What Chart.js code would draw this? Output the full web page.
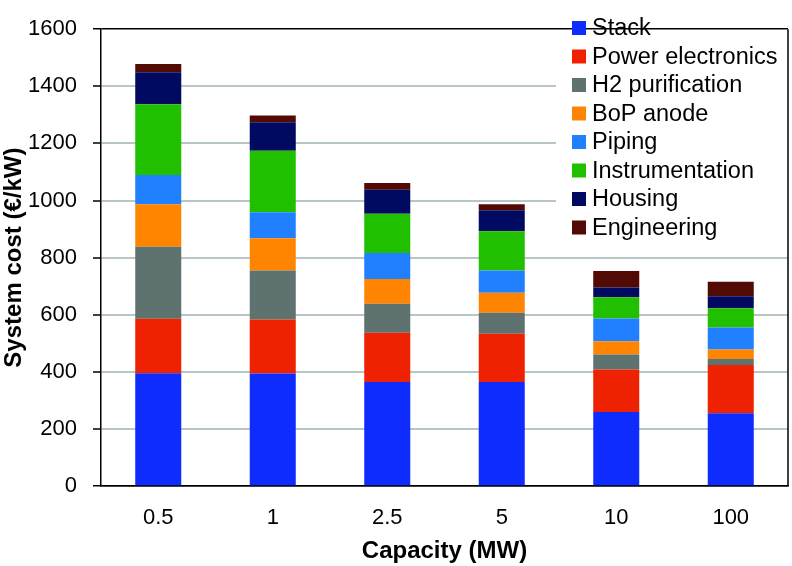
<!DOCTYPE html>
<html>
<head>
<meta charset="utf-8">
<script src="https://cdn.jsdelivr.net/npm/chart.js@4.4.1/dist/chart.umd.min.js"></script>
<style>
html,body{margin:0;padding:0;background:#fff;}
#c{display:block;}
</style>
</head>
<body>
<canvas id="c" width="792" height="566"></canvas>
<script>
const categories = ["0.5", "1", "2.5", "5", "10", "100"];
const stack       = [395, 394, 364, 364, 259, 255];
const powerElec   = [191, 189, 173, 169, 149, 169];
const h2Purif     = [252, 172, 101, 74, 53, 21];
const bopAnode    = [149, 113, 87, 70, 46, 33];
const piping      = [102, 91, 91, 78, 80, 77];
const instrument  = [248, 215, 138, 137, 74, 68];
const housing     = [112, 100, 84, 74, 34, 42];
const engineering = [29, 24, 23, 21, 58, 50];
const seriesNames = ["Stack", "Power electronics", "H2 purification", "BoP anode", "Piping", "Instrumentation", "Housing", "Engineering"];
const seriesColors = ["#0F2CFF", "#EE2200", "#5E7270", "#FF8500", "#2080FF", "#20C000", "#000A60", "#520A05"];
const yTicks = [0, 200, 400, 600, 800, 1000, 1200, 1400, 1600];

const seriesData = [stack, powerElec, h2Purif, bopAnode, piping, instrument, housing, engineering];
const FONT = "'Liberation Sans', Arial, Helvetica, sans-serif";

const frameLegend = {
  id: 'frameLegend',
  afterDraw(chart) {
    const ctx = chart.ctx;
    const a = chart.chartArea;
    ctx.save();
    ctx.fillStyle = '#ffffff';
    ctx.fillRect(556, a.top + 1, a.right - 556, 247 - a.top - 1);
    ctx.strokeStyle = '#000';
    ctx.lineWidth = 1.5;
    ctx.beginPath();
    ctx.moveTo(a.right, a.top);
    ctx.lineTo(a.right, a.bottom);
    ctx.stroke();
    ctx.font = '23.5px ' + FONT;
    ctx.textBaseline = 'middle';
    ctx.textAlign = 'left';
    chart.data.datasets.forEach((ds, i) => {
      const cy = 28 + i * 28.5;
      ctx.fillStyle = ds.backgroundColor;
      ctx.fillRect(572, cy - 7, 14, 14);
      ctx.fillStyle = '#000';
      ctx.fillText(ds.label, 592, cy + 1);
    });
    ctx.restore();
  }
};

new Chart(document.getElementById('c'), {
  type: 'bar',
  data: {
    labels: categories,
    datasets: seriesNames.map((n, i) => ({
      label: n,
      data: seriesData[i],
      backgroundColor: seriesColors[i],
      borderWidth: 0,
      categoryPercentage: 1.0,
      barPercentage: 0.402
    }))
  },
  options: {
    responsive: false,
    animation: false,
    devicePixelRatio: 1,
    layout: { padding: { top: 11, right: 4, left: 0, bottom: 0 } },
    plugins: { legend: { display: false }, tooltip: { enabled: false } },
    scales: {
      x: {
        stacked: true,
        grid: { display: false, drawTicks: false },
        border: { display: true, color: '#000', width: 1.5 },
        ticks: { color: '#000', font: { family: FONT, size: 22 }, padding: 19 },
        title: { display: true, text: 'Capacity (MW)', color: '#000', font: { family: FONT, size: 24, weight: 'bold' }, padding: { top: 0, bottom: 0 } },
        afterFit(s) { s.height = 80; }
      },
      y: {
        stacked: true,
        min: 0,
        max: 1600,
        afterBuildTicks(s) { s.ticks = yTicks.map(v => ({ value: v })); },
        grid: {
          color: c => (c.tick && (c.tick.value === 1600 || c.tick.value === 0)) ? '#000' : '#B8C6C6',
          lineWidth: c => (c.tick && (c.tick.value === 1600 || c.tick.value === 0)) ? 1.5 : 2,
          tickColor: '#000',
          tickLength: 8,
          tickWidth: 1.5
        },
        border: { display: true, color: '#000', width: 1.5 },
        ticks: { color: '#000', font: { family: FONT, size: 22 }, padding: 16, callback: v => String(v) },
        title: { display: true, text: 'System cost (€/kW)', color: '#000', font: { family: FONT, size: 24, weight: 'bold' }, padding: 0 },
        afterFit(s) { s.width = 101; }
      }
    }
  },
  plugins: [frameLegend]
});
</script>
</body>
</html>
